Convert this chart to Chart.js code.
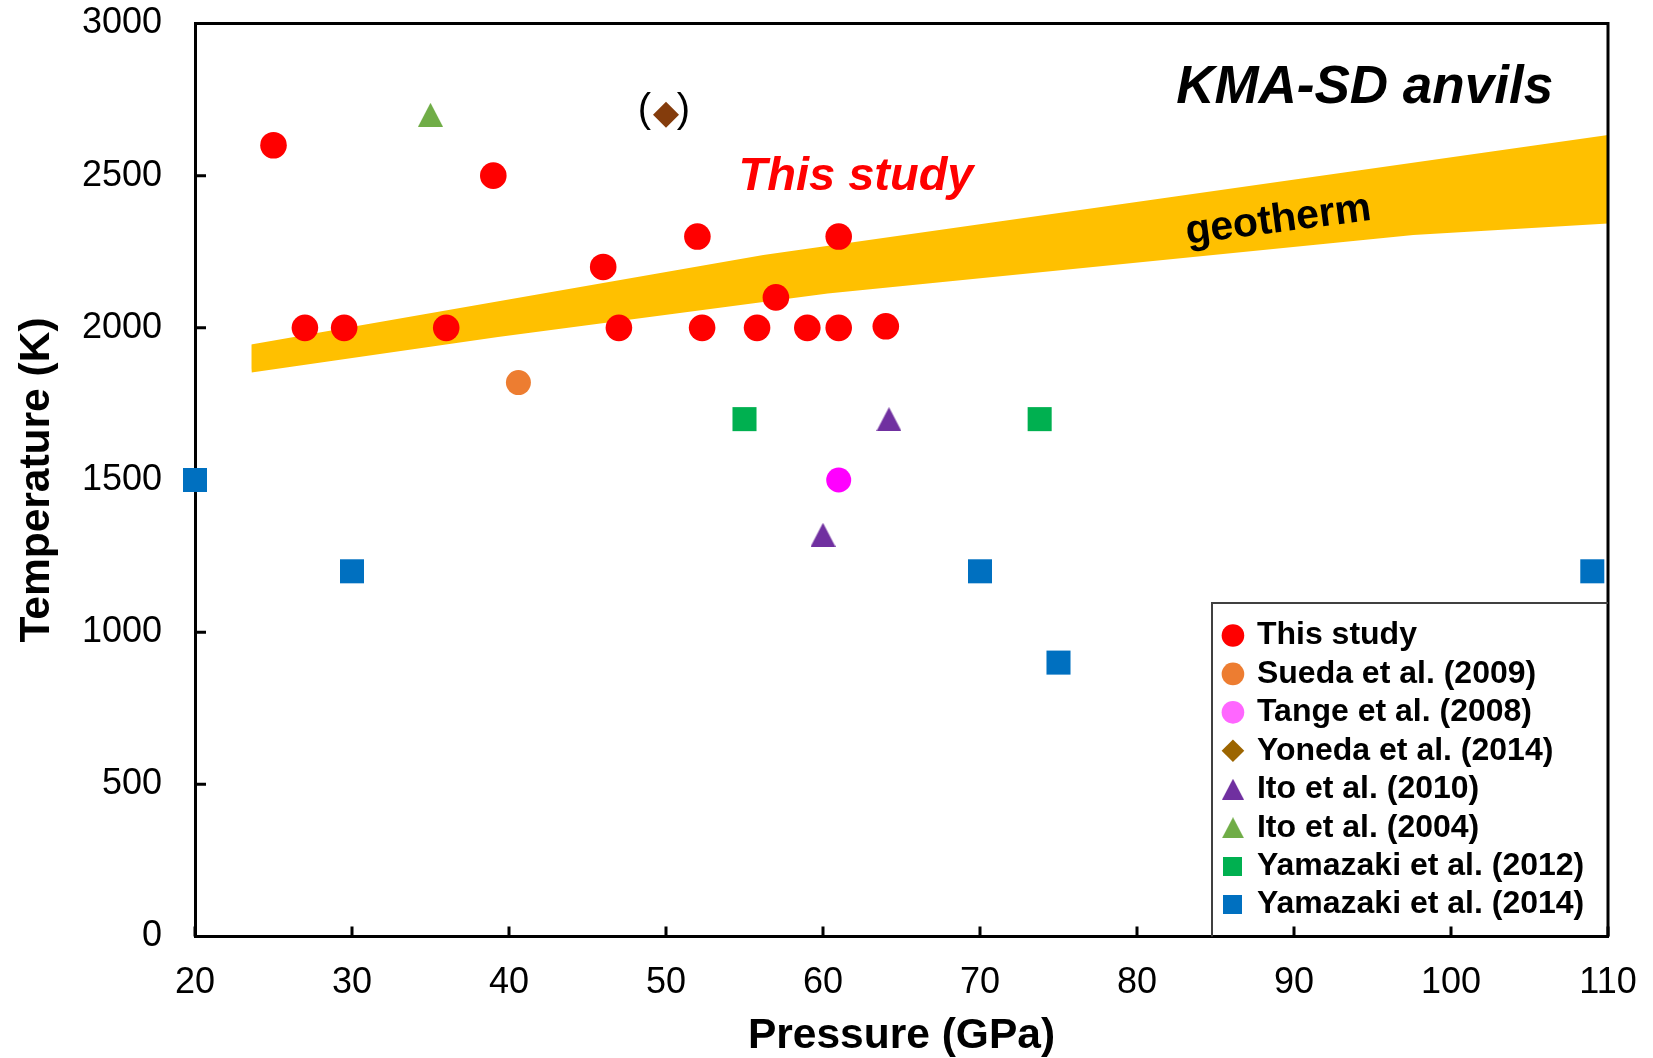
<!DOCTYPE html>
<html>
<head>
<meta charset="utf-8">
<script src="https://cdn.jsdelivr.net/npm/chart.js@4/dist/chart.umd.min.js"></script>
<style>
  html, body { margin: 0; padding: 0; background: #fff; }
  canvas { display: block; }
</style>
</head>
<body>
<canvas id="chart" width="1653" height="1058"></canvas>
<script>
// Pressure (GPa) and temperature (K) of each experiment, per study
const thisStudyP = [25, 27, 29.5, 36, 39, 46, 47, 52, 52.3, 55.8, 57, 59, 61, 61, 64];
const thisStudyT = [2600, 2000, 2000, 2000, 2500, 2200, 2000, 2300, 2000, 2000, 2100, 2000, 2300, 2000, 2005];
const suedaP = [40.6];
const suedaT = [1820];
const tangeP = [61];
const tangeT = [1500];
const yonedaP = [50];
const yonedaT = [2700];
const ito2010P = [60, 64.2];
const ito2010T = [1320, 1700];
const ito2004P = [35];
const ito2004T = [2700];
const yamazaki2012P = [55, 73.8];
const yamazaki2012T = [1700, 1700];
const yamazaki2014P = [20, 30, 70, 75, 109];
const yamazaki2014T = [1500, 1200, 1200, 900, 1200];

// Upper and lower edges of the geotherm band
const geothermUpperP = [23.4, 56.2, 110];
const geothermUpperT = [1944, 2239, 2634];
const geothermLowerP = [23.6, 39.3, 60.3, 97.6, 110];
const geothermLowerT = [1853, 1970, 2113, 2305, 2343];

// Axis ticks
const pressureTicks = [20, 30, 40, 50, 60, 70, 80, 90, 100, 110];
const temperatureTicks = [0, 500, 1000, 1500, 2000, 2500, 3000];

const FONT = "'Liberation Sans', Arial, Helvetica, sans-serif";
const pairs = (xs, ys) => xs.map((x, i) => ({ x: x, y: ys[i] }));

// Marker sprites: triangle centred on its bounding box, and plain squares
function triangleSprite(w, h, color) {
  const c = document.createElement('canvas');
  c.width = w; c.height = h;
  const g = c.getContext('2d');
  g.fillStyle = color;
  g.beginPath();
  g.moveTo(w / 2, 0);
  g.lineTo(w, h);
  g.lineTo(0, h);
  g.closePath();
  g.fill();
  return c;
}
function squareSprite(s, color) {
  const c = document.createElement('canvas');
  c.width = s; c.height = s;
  const g = c.getContext('2d');
  g.fillStyle = color;
  g.fillRect(0, 0, s, s);
  return c;
}

function markers(label, xs, ys, style, radius, color, extra) {
  return Object.assign({
    label: label,
    data: pairs(xs, ys),
    pointStyle: style,
    pointRadius: radius,
    pointHoverRadius: radius,
    backgroundColor: color,
    borderColor: color,
    pointBorderWidth: 0,
    borderWidth: 0,
    clip: false
  }, extra || {});
}

const PURPLE = '#7030A0', OLIVE = '#70AD47', GREEN = '#00B050', BLUE = '#0070C0';

const datasets = [
  markers('This study', thisStudyP, thisStudyT, 'circle', 13.3, '#FF0000'),
  markers('Sueda et al. (2009)', suedaP, suedaT, 'circle', 12.5, '#ED7D31'),
  markers('Tange et al. (2008)', tangeP, tangeT, 'circle', 12.5, '#FF00FF', { legendColor: '#FF66FF' }),
  markers('Yoneda et al. (2014)', yonedaP, yonedaT, 'rectRot', 13, '#843C0C', { legendColor: '#9C6500' }),
  markers('Ito et al. (2010)', ito2010P, ito2010T, triangleSprite(25, 24, PURPLE), 13, PURPLE,
    { legendStyle: triangleSprite(22, 21, PURPLE) }),
  markers('Ito et al. (2004)', ito2004P, ito2004T, triangleSprite(25, 24, OLIVE), 13, OLIVE,
    { legendStyle: triangleSprite(22, 21, OLIVE) }),
  markers('Yamazaki et al. (2012)', yamazaki2012P, yamazaki2012T, 'rect', 17, GREEN,
    { legendStyle: squareSprite(19, GREEN) }),
  markers('Yamazaki et al. (2014)', yamazaki2014P, yamazaki2014T, 'rect', 17, BLUE,
    { legendStyle: squareSprite(19, BLUE) }),
  {
    label: 'geotherm-upper',
    data: pairs(geothermUpperP, geothermUpperT),
    showLine: true,
    pointRadius: 0,
    borderWidth: 1,
    borderColor: 'rgba(0,0,0,0)',
    backgroundColor: '#FFC000',
    fill: '+1',
    order: 10
  },
  {
    label: 'geotherm-lower',
    data: pairs(geothermLowerP, geothermLowerT),
    showLine: true,
    pointRadius: 0,
    borderWidth: 1,
    borderColor: 'rgba(0,0,0,0)',
    backgroundColor: '#FFC000',
    fill: false,
    order: 10
  }
];

// Text placed on the plot, anchored in data coordinates
const notes = [
  { text: 'KMA-SD anvils', x: 94.5, y: 2738, font: 'italic bold 53px ' + FONT, color: '#000', angle: 0 },
  { text: 'This study', x: 62.1, y: 2453, font: 'italic bold 47px ' + FONT, color: '#FF0000', angle: 0 },
  { text: 'geotherm', x: 89.0, y: 2352, font: 'bold 41px ' + FONT, color: '#000', angle: -7.5, baseline: 'middle' }
];

const plotDecor = {
  id: 'plotDecor',
  beforeDraw(chart) {
    // legend sits in the lower-right corner of the plot, inside a framed box
    const a = chart.chartArea;
    const lg = chart.legend;
    const frameLeft = a.right - 396;
    const frameTop = a.bottom - 333.5;
    lg.left = frameLeft + 6.5;
    lg.top = frameTop + 10;
    lg.right = a.right;
    lg.bottom = a.bottom;
    chart.$legendFrame = { left: frameLeft, top: frameTop, right: a.right, bottom: a.bottom };
  },
  beforeDatasetsDraw(chart) {
    const { ctx, chartArea: a, scales: { x, y } } = chart;
    ctx.save();
    ctx.strokeStyle = '#000';
    ctx.lineWidth = 3;
    ctx.beginPath();
    x.ticks.forEach(t => {
      const px = x.getPixelForValue(t.value);
      ctx.moveTo(px, a.bottom);
      ctx.lineTo(px, a.bottom - 10);
    });
    y.ticks.forEach(t => {
      const py = y.getPixelForValue(t.value);
      ctx.moveTo(a.left, py);
      ctx.lineTo(a.left + 11, py);
    });
    ctx.stroke();
    ctx.restore();
  },
  afterDatasetsDraw(chart) {
    const { ctx, chartArea: a, scales: { x, y } } = chart;
    ctx.save();
    // top and right edges of the plot frame
    ctx.strokeStyle = '#000';
    ctx.lineWidth = 3;
    ctx.beginPath();
    ctx.moveTo(a.left, a.top);
    ctx.lineTo(a.right, a.top);
    ctx.lineTo(a.right, a.bottom);
    ctx.stroke();

    notes.forEach(n => {
      ctx.save();
      ctx.translate(x.getPixelForValue(n.x), y.getPixelForValue(n.y));
      ctx.rotate(n.angle * Math.PI / 180);
      ctx.font = n.font;
      ctx.fillStyle = n.color;
      ctx.textAlign = 'center';
      ctx.textBaseline = n.baseline || 'alphabetic';
      ctx.fillText(n.text, 0, 0);
      ctx.restore();
    });

    // brackets around the Yoneda et al. point
    const yon = chart.getDatasetMeta(3).data[0];
    ctx.font = '40px ' + FONT;
    ctx.fillStyle = '#000';
    ctx.textAlign = 'center';
    ctx.textBaseline = 'alphabetic';
    ctx.fillText('(', yon.x - 21.5, yon.y + 7);
    ctx.fillText(')', yon.x + 17.5, yon.y + 7);
    ctx.restore();
  },
  afterDraw(chart) {
    const f = chart.$legendFrame;
    if (!f) return;
    const ctx = chart.ctx;
    ctx.save();
    ctx.strokeStyle = '#404040';
    ctx.lineWidth = 2;
    ctx.beginPath();
    ctx.moveTo(f.right, f.top);
    ctx.lineTo(f.left, f.top);
    ctx.lineTo(f.left, f.bottom);
    ctx.stroke();
    ctx.restore();
  }
};

new Chart(document.getElementById('chart'), {
  type: 'scatter',
  data: { datasets: datasets },
  options: {
    responsive: false,
    animation: false,
    devicePixelRatio: 1,
    layout: { padding: { left: 0, right: 45, top: 23.5, bottom: 0 } },
    plugins: {
      tooltip: { enabled: false },
      legend: {
        position: 'chartArea',
        align: 'start',
        labels: {
          usePointStyle: true,
          boxWidth: 16,
          boxHeight: 16,
          padding: 6.45,
          color: '#000',
          font: { family: FONT, size: 32, weight: 'bold' },
          filter: item => !item.text.startsWith('geotherm'),
          generateLabels(chart) {
            const items = Chart.defaults.plugins.legend.labels.generateLabels(chart);
            items.forEach(it => {
              const ds = chart.data.datasets[it.datasetIndex];
              if (ds.legendColor) {
                it.fillStyle = ds.legendColor;
                it.strokeStyle = ds.legendColor;
              }
              if (ds.legendStyle) it.pointStyle = ds.legendStyle;
              it.lineWidth = 0;
            });
            return items;
          }
        }
      }
    },
    scales: {
      x: {
        type: 'linear',
        min: 20,
        max: 110,
        afterBuildTicks(s) { s.ticks = pressureTicks.map(v => ({ value: v })); },
        afterFit(s) { s.height = 121.5; },
        // transparent outer tick marks only reserve the gap between axis and labels
        grid: { display: true, drawOnChartArea: false, drawTicks: true, tickLength: 25, color: 'rgba(0,0,0,0)' },
        border: { display: true, color: '#000', width: 3 },
        ticks: { color: '#000', padding: 0, maxRotation: 0, autoSkip: false, font: { family: FONT, size: 36 }, callback: v => String(v) },
        title: { display: true, text: 'Pressure (GPa)', color: '#000', padding: { top: 0, bottom: 0 }, font: { family: FONT, size: 42.5, weight: 'bold', lineHeight: 1 } }
      },
      y: {
        type: 'linear',
        min: 0,
        max: 3000,
        afterBuildTicks(s) { s.ticks = temperatureTicks.map(v => ({ value: v })); },
        afterFit(s) { s.width = 195; },
        grid: { display: true, drawOnChartArea: false, drawTicks: true, tickLength: 33, color: 'rgba(0,0,0,0)' },
        border: { display: true, color: '#000', width: 3 },
        ticks: { color: '#000', padding: 0, autoSkip: false, font: { family: FONT, size: 36 }, callback: v => String(v) },
        title: { display: true, text: 'Temperature (K)', color: '#000', padding: { top: 16, bottom: 0 }, font: { family: FONT, size: 42.5, weight: 'bold', lineHeight: 1 } }
      }
    }
  },
  plugins: [plotDecor]
});
</script>
</body>
</html>
